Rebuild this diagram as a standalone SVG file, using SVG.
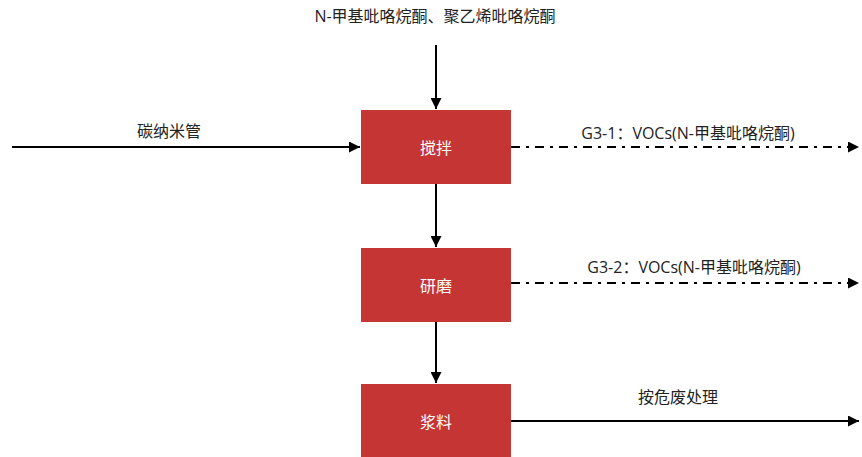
<svg xmlns="http://www.w3.org/2000/svg" width="862" height="457" viewBox="0 0 862 457">
<defs>
<marker id="ah" viewBox="0 0 10 10" refX="10" refY="5" markerWidth="5.5" markerHeight="5.5" orient="auto" markerUnits="strokeWidth"><path d="M0,0 L10,5 L0,10 z" fill="#000"/></marker>
<style>
.box{fill:#c43533}
.bt{fill:#fff;font-family:"Noto Sans CJK SC",sans-serif;font-size:16px;text-anchor:middle;dominant-baseline:central}
.lt{fill:#222;font-family:"Open Sans","Noto Sans CJK SC",sans-serif;font-size:16px;text-anchor:middle}
.ln{stroke:#000;stroke-width:2;fill:none;marker-end:url(#ah)}
.dd{stroke-dasharray:9 6 3 6}
</style>
</defs>
<rect width="862" height="457" fill="#fff"/>
<g id="n1"><rect class="box" x="361" y="110" width="150" height="74"/><text class="bt" x="436" y="147">搅拌</text></g>
<g id="n2"><rect class="box" x="361" y="248" width="150" height="74"/><text class="bt" x="436" y="285">研磨</text></g>
<g id="n3"><rect class="box" x="361" y="384" width="150" height="74"/><text class="bt" x="436" y="421">浆料</text></g>
<g id="edges">
<line class="ln" x1="436" y1="45" x2="436" y2="109"/>
<line class="ln" x1="12" y1="147" x2="360" y2="147"/>
<line class="ln dd" x1="511" y1="147" x2="859" y2="147"/>
<line class="ln" x1="436" y1="184" x2="436" y2="247"/>
<line class="ln dd" x1="511" y1="283" x2="859" y2="283"/>
<line class="ln" x1="436" y1="322" x2="436" y2="383"/>
<line class="ln" x1="511" y1="421" x2="859" y2="421"/>
</g>
<g id="labels">
<text class="lt" x="435" y="22">N-甲基吡咯烷酮、聚乙烯吡咯烷酮</text>
<text class="lt" x="169" y="137">碳纳米管</text>
<text class="lt" x="688" y="139">G3-1：VOCs(N-甲基吡咯烷酮)</text>
<text class="lt" x="694" y="273">G3-2：VOCs(N-甲基吡咯烷酮)</text>
<text class="lt" x="678" y="403">按危废处理</text>
</g>
</svg>
